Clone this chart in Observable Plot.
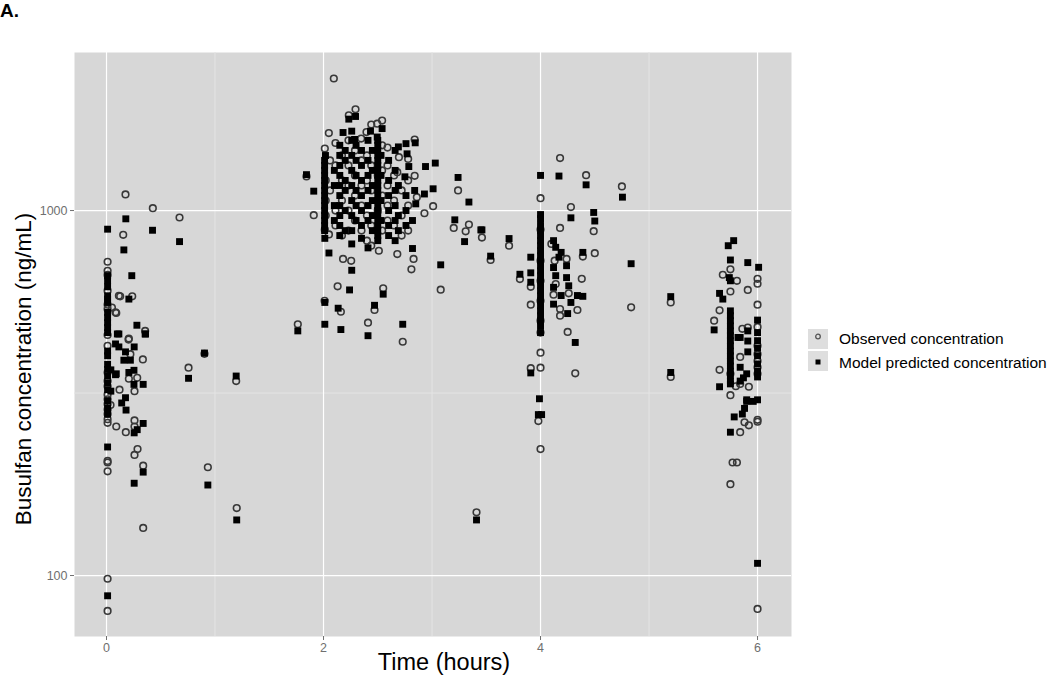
<!DOCTYPE html>
<html><head><meta charset="utf-8">
<script src="https://cdn.jsdelivr.net/npm/d3@7"></script>
<script src="https://cdn.jsdelivr.net/npm/@observablehq/plot@0.6"></script>
<style>
body{margin:0;background:#fff;font-family:"Liberation Sans",Arial,sans-serif;}
#wrap{position:relative;width:1050px;height:676px;overflow:hidden;}
#panel{position:absolute;left:0;top:0;}
#panel svg g[aria-label$="tick label"]{font-size:12.5px !important;}
#panel svg g[aria-label$="tick label"] text{font-size:12.5px !important;}
.lbl{position:absolute;white-space:nowrap;color:#000;}
#tag{left:0;top:0px;font-size:19px;font-weight:bold;}
#xt{left:444px;top:649px;font-size:23.5px;transform:translateX(-50%);}
#yt{left:24px;top:369px;font-size:22.5px;transform:translate(-50%,-50%) rotate(-90deg);}
.key{position:absolute;left:808px;width:20px;height:20px;background:#dedede;}
.ktxt{position:absolute;left:839px;font-size:15.5px;line-height:17px;color:#000;white-space:nowrap;}
</style></head><body><div id="wrap"><div id="panel"></div>
<div class="lbl" id="tag">A.</div>
<div class="lbl" id="xt">Time (hours)</div>
<div class="lbl" id="yt">Busulfan concentration (ng/mL)</div>
<div class="key" style="top:329px"><svg width="20" height="20"><circle cx="10" cy="7.5" r="2.3" fill="none" stroke="#555" stroke-width="1.3"/></svg></div>
<div class="key" style="top:351px"><svg width="20" height="20"><rect x="7.5" y="8.5" width="5" height="5" fill="#000"/></svg></div>
<div class="ktxt" style="top:330px">Observed concentration</div>
<div class="ktxt" style="top:354px">Model predicted concentration</div>
</div>
<script>
const seriesNames = ["Observed concentration", "Model predicted concentration"];
const xTicks = [0, 2, 4, 6];
const yTicks = [100, 1000];

// Observed concentration: [time (h), concentration (ng/mL)]
const observed = [
 [0.175,1107],[0.427,1015],[0.673,957],[0.154,858],[0.01,724],[0.126,582],[0.237,582],[0.05,542],[0.09,524],
 [0.356,468],[0.206,446],[0.203,443],[0.335,391],[0.903,405],[0.756,371],[1.195,341],[0.12,323],[0.037,293],
 [0.258,266],[0.258,256],[0.178,247],[0.09,256],[0.286,222],[0.258,214],[0.01,204],[0.01,193],[0.338,200],
 [0.934,198],[1.2,153],[0.338,135],[0.01,98],[0.01,80],
 [0.01,684],[0.01,666],[0.01,603],[0.01,552],[0.01,537],[0.01,456],[0.01,426],[0.01,360],[0.01,341],[0.01,330],
 [0.01,313],[0.01,304],[0.01,295],[0.01,285],[0.01,277],[0.01,268],[0.01,262],[0.01,206],
 [0.114,584],[0.083,526],[0.22,404],[0.206,346],[0.283,348],[0.258,320],
 [1.843,1240],[1.91,971],[1.763,488],
 [2.095,2300],[2.295,1893],[2.233,1824],[2.44,1720],[2.495,1730],[2.54,1764],[2.049,1630],[2.396,1640],
 [2.11,1531],[2.347,1575],[2.59,1488],[2.84,1565],[2.012,1478],[2.695,1400],[2.78,1385],[2.84,1245],
 [2.68,1274],[3.01,1028],[2.93,983],[2.86,1088],[3.24,1135],[3.2,896],[3.34,915],[3.31,877],
 [2.012,886],[2.05,860],[2.51,776],[2.68,760],[2.83,737],[2.81,690],[2.18,737],[2.255,728],[3.08,607],
 [2.13,620],[2.55,612],[2.01,566],[2.16,528],[2.47,534],[2.41,493],[2.73,437],
 [2.02,1209],[2.02,1065],[2.02,969],[2.06,1372],[2.06,1135],[2.11,1329],[2.11,1000],[2.11,910],
 [2.17,1416],[2.17,1209],[2.17,1065],[2.17,854],[2.23,1557],[2.23,1329],[2.23,1171],[2.23,1000],[2.23,881],
 [2.29,1461],[2.29,1248],[2.29,1099],[2.29,939],[2.35,1372],[2.35,1171],[2.35,1032],[2.35,881],
 [2.4,1416],[2.4,1209],[2.4,969],[2.4,827],[2.44,1329],[2.44,1135],[2.44,910],[2.44,801],[2.5,1248],[2.5,1000],
 [2.54,1509],[2.54,1288],[2.54,1099],[2.54,881],[2.59,1329],[2.59,1171],[2.59,1032],[2.59,939],
 [2.65,1248],[2.65,1065],[2.65,910],[2.72,1135],[2.72,969],[2.72,854],[2.78,1209],[2.78,1032],[2.78,881],
 [3.41,149],[3.46,843],[3.54,732],[3.71,801],[3.81,649],[3.91,618],[3.91,552],[3.91,370],
 [4.18,1392],[4.42,1250],[4.75,1164],[4.0,1081],[4.28,1022],[4.49,878],[4.0,887],[4.18,896],[4.1,810],
 [4.13,729],[4.24,737],[4.14,629],[4.12,588],[4.26,593],[4.18,537],[4.18,515],[4.34,534],[4.38,650],
 [4.39,748],[4.5,764],[4.835,543],[4.0,463],[4.25,465],[4.0,408],[4.0,371],[4.32,358],[3.98,265],[4.0,222],
 [4.0,729],[4.0,642],[4.0,566],[4.0,499],
 [5.2,560],[5.2,350],
 [5.75,690],[5.68,667],[5.81,642],[6.0,650],[6.0,630],[5.75,600],[5.91,606],[5.65,533],[6.0,552],[5.6,499],
 [5.86,474],[5.91,478],[5.84,397],[5.65,366],[5.75,357],[5.8,330],[5.84,335],[5.92,329],[5.75,312],[6.0,267],
 [5.88,263],[5.92,258],[6.0,264],[5.84,247],[5.77,204],[5.81,204],[5.75,178],[6.0,81],
 [6.0,426],[6.0,404],[6.0,387],[6.0,372],[6.0,357],[6.0,480]
];

// Model predicted concentration: [time (h), concentration (ng/mL)]
const predicted = [
 [0.178,949],[0.01,889],[0.424,883],[0.673,822],[0.16,780],[0.233,663],[0.206,572],[0.28,485],[0.356,459],
 [0.114,459],[0.1,459],[0.255,423],[0.903,407],[0.756,347],[1.195,352],[0.175,307],[0.14,297],[0.18,284],
 [0.338,261],[0.283,251],[0.255,246],[0.01,225],[0.338,192],[0.255,179],[0.934,177],[1.2,142],[0.01,88],
 [0.01,663],[0.01,642],[0.01,618],[0.01,584],[0.01,572],[0.01,560],[0.01,526],[0.01,509],[0.01,493],[0.01,478],
 [0.01,463],[0.01,412],[0.01,400],[0.01,379],[0.01,367],[0.01,352],[0.01,337],[0.01,323],[0.01,301],[0.01,288],[0.01,277],
 [0.083,355],[0.114,423],[0.083,431],[0.36,459],[0.175,410],[0.16,389],[0.22,389],[0.09,357],[0.206,360],
 [0.253,365],[0.253,334],[0.338,334],[0.04,366],[0.04,320],
 [1.843,1254],[1.91,1130],[1.763,468],
 [2.18,1636],[2.26,1650],[2.433,1650],[2.233,1780],[2.295,1810],[2.54,1677],[2.286,1566],[2.495,1590],
 [2.69,1494],[2.76,1525],[2.845,1533],[2.018,1415],[2.77,1430],[3.03,1349],[2.94,1320],[2.786,1320],
 [2.75,1237],[3.01,1147],[2.93,1110],[2.84,1135],[2.85,1043],[3.24,1232],[3.34,1055],[3.21,943],[3.3,822],
 [3.45,885],[2.012,839],[2.05,765],[2.26,810],[2.41,790],[2.82,787],[2.26,686],[3.08,710],[2.24,606],
 [2.55,590],[2.012,560],[2.135,540],[2.47,550],[2.012,488],[2.16,472],[2.41,454],[2.73,488],
 [2.01,1372],[2.01,1329],[2.01,1288],[2.01,1248],[2.01,1209],[2.01,1171],[2.01,1135],[2.01,1099],[2.01,1065],
 [2.01,1032],[2.01,1000],[2.01,969],[2.01,939],[2.01,910],[2.01,881],
 [2.1,1288],[2.1,1171],[2.1,1032],[2.1,939],
 [2.15,1509],[2.15,1416],[2.15,1329],[2.15,1248],[2.15,1171],[2.15,1099],[2.15,1032],[2.15,969],[2.15,910],[2.15,854],
 [2.2,1461],[2.2,1372],[2.2,1209],[2.2,1135],[2.2,1000],[2.2,881],
 [2.26,1557],[2.26,1416],[2.26,1288],[2.26,1171],[2.26,1065],[2.26,969],[2.26,881],
 [2.3,1509],[2.3,1372],[2.3,1248],[2.3,1135],[2.3,1032],[2.3,939],
 [2.35,1461],[2.35,1329],[2.35,1209],[2.35,1099],[2.35,1000],[2.35,910],[2.35,839],
 [2.41,1557],[2.41,1372],[2.41,1248],[2.41,1135],[2.41,1032],[2.41,939],
 [2.45,1461],[2.45,1288],[2.45,1171],[2.45,1065],[2.45,969],[2.45,881],
 [2.5,1557],[2.5,1509],[2.5,1461],[2.5,1416],[2.5,1372],[2.5,1329],[2.5,1288],[2.5,1248],[2.5,1209],[2.5,1171],
 [2.5,1135],[2.5,1099],[2.5,1065],[2.5,1032],[2.5,1000],[2.5,969],[2.5,939],[2.5,910],[2.5,881],[2.5,854],[2.5,827],
 [2.53,1416],[2.53,1248],[2.53,1065],[2.53,939],
 [2.6,1372],[2.6,1209],[2.6,1099],[2.6,1000],[2.6,910],[2.6,854],
 [2.66,1461],[2.66,1288],[2.66,1135],[2.66,1032],[2.66,939],[2.66,827],
 [2.69,1171],[2.69,969],[2.69,881],[2.76,1099],[2.76,1000],[2.76,910],[2.82,939],
 [3.46,885],[3.54,750],[3.71,838],[3.81,669],[3.91,745],[3.91,675],[3.91,636],[3.91,359],[3.41,142],
 [4.0,1248],[4.17,1243],[4.42,1176],[4.755,1088],[4.28,955],[4.49,988],[4.5,936],[4.39,768],[4.835,715],
 [4.32,435],[3.99,305],[3.98,276],[4.01,276],
 [4.0,975],[4.0,950],[4.0,910],[4.0,881],[4.0,854],[4.0,827],[4.0,801],[4.0,776],[4.0,752],[4.0,729],[4.0,706],
 [4.0,684],[4.0,663],[4.0,642],[4.0,622],[4.0,603],[4.0,584],[4.0,566],[4.0,548],[4.0,531],[4.0,515],[4.0,499],
 [4.0,483],[4.0,463],
 [4.12,827],[4.14,793],[4.19,768],[4.17,745],[4.12,698],[4.24,706],[4.14,663],[4.24,655],[4.26,622],[4.12,616],
 [4.19,585],[4.28,560],[4.12,554],[4.25,522],[4.34,585],[4.39,582],
 [5.2,581],[5.2,360],
 [5.78,827],[5.73,801],[5.75,732],[5.91,720],[6.01,699],[5.74,655],[5.75,642],[5.65,593],[5.68,572],[5.6,471],
 [6.0,501],[5.82,449],[5.84,449],[5.91,468],[5.91,439],[5.91,410],[5.84,372],[5.9,357],[5.87,348],[5.84,341],
 [5.75,335],[5.65,329],[5.9,303],[6.0,303],[5.88,287],[5.86,277],[5.785,272],[5.75,247],[6.0,108],[5.9,300],[5.96,300],
 [5.75,531],[5.75,515],[5.75,499],[5.75,483],[5.75,468],[5.75,454],[5.75,440],[5.75,426],[5.75,412],[5.75,400],
 [5.75,387],[5.75,375],[5.75,363],[5.75,352],[5.75,341],
 [6.0,463],[6.0,440],[6.0,420],[6.0,400],[6.0,380],[6.0,363],[6.0,350]
];

const chart = Plot.plot({
  width: 1050, height: 676,
  marginLeft: 74, marginRight: 259, marginTop: 52, marginBottom: 40,
  style: {fontFamily: "'Liberation Sans', Arial, sans-serif", fontSize: "12px", background: "transparent"},
  x: {domain: [-0.295, 6.313]},
  y: {type: "log", domain: [68.07, 2710]},
  marks: [
    Plot.frame({fill: "#d7d7d7", stroke: null}),
    Plot.gridX([1, 3, 5], {stroke: "#e4e4e4", strokeOpacity: 1, strokeWidth: 1}),
    Plot.gridY([Math.sqrt(10) * 100], {stroke: "#e4e4e4", strokeOpacity: 1, strokeWidth: 1}),
    Plot.gridX(xTicks, {stroke: "#ffffff", strokeOpacity: 1, strokeWidth: 1.2}),
    Plot.gridY(yTicks, {stroke: "#ffffff", strokeOpacity: 1, strokeWidth: 1.2}),
    Plot.axisX(xTicks, {tickSize: 4, tickPadding: 3, fontSize: 12.5, color: "#6f6f6f", label: null, tickFormat: d => String(d)}),
    Plot.axisY(yTicks, {tickSize: 4, tickPadding: 3, fontSize: 12.5, color: "#6f6f6f", label: null, tickFormat: d => String(d)}),
    Plot.dot(observed, {x: d => d[0], y: d => d[1], r: 3.3, stroke: "#383838", strokeWidth: 1.6, fill: "none", title: () => seriesNames[0]}),
    Plot.dot(predicted, {x: d => d[0], y: d => d[1], symbol: "square", r: 3.9, fill: "#000", stroke: null, title: () => seriesNames[1]})
  ]
});
document.getElementById("panel").appendChild(chart);
</script>
</body></html>
